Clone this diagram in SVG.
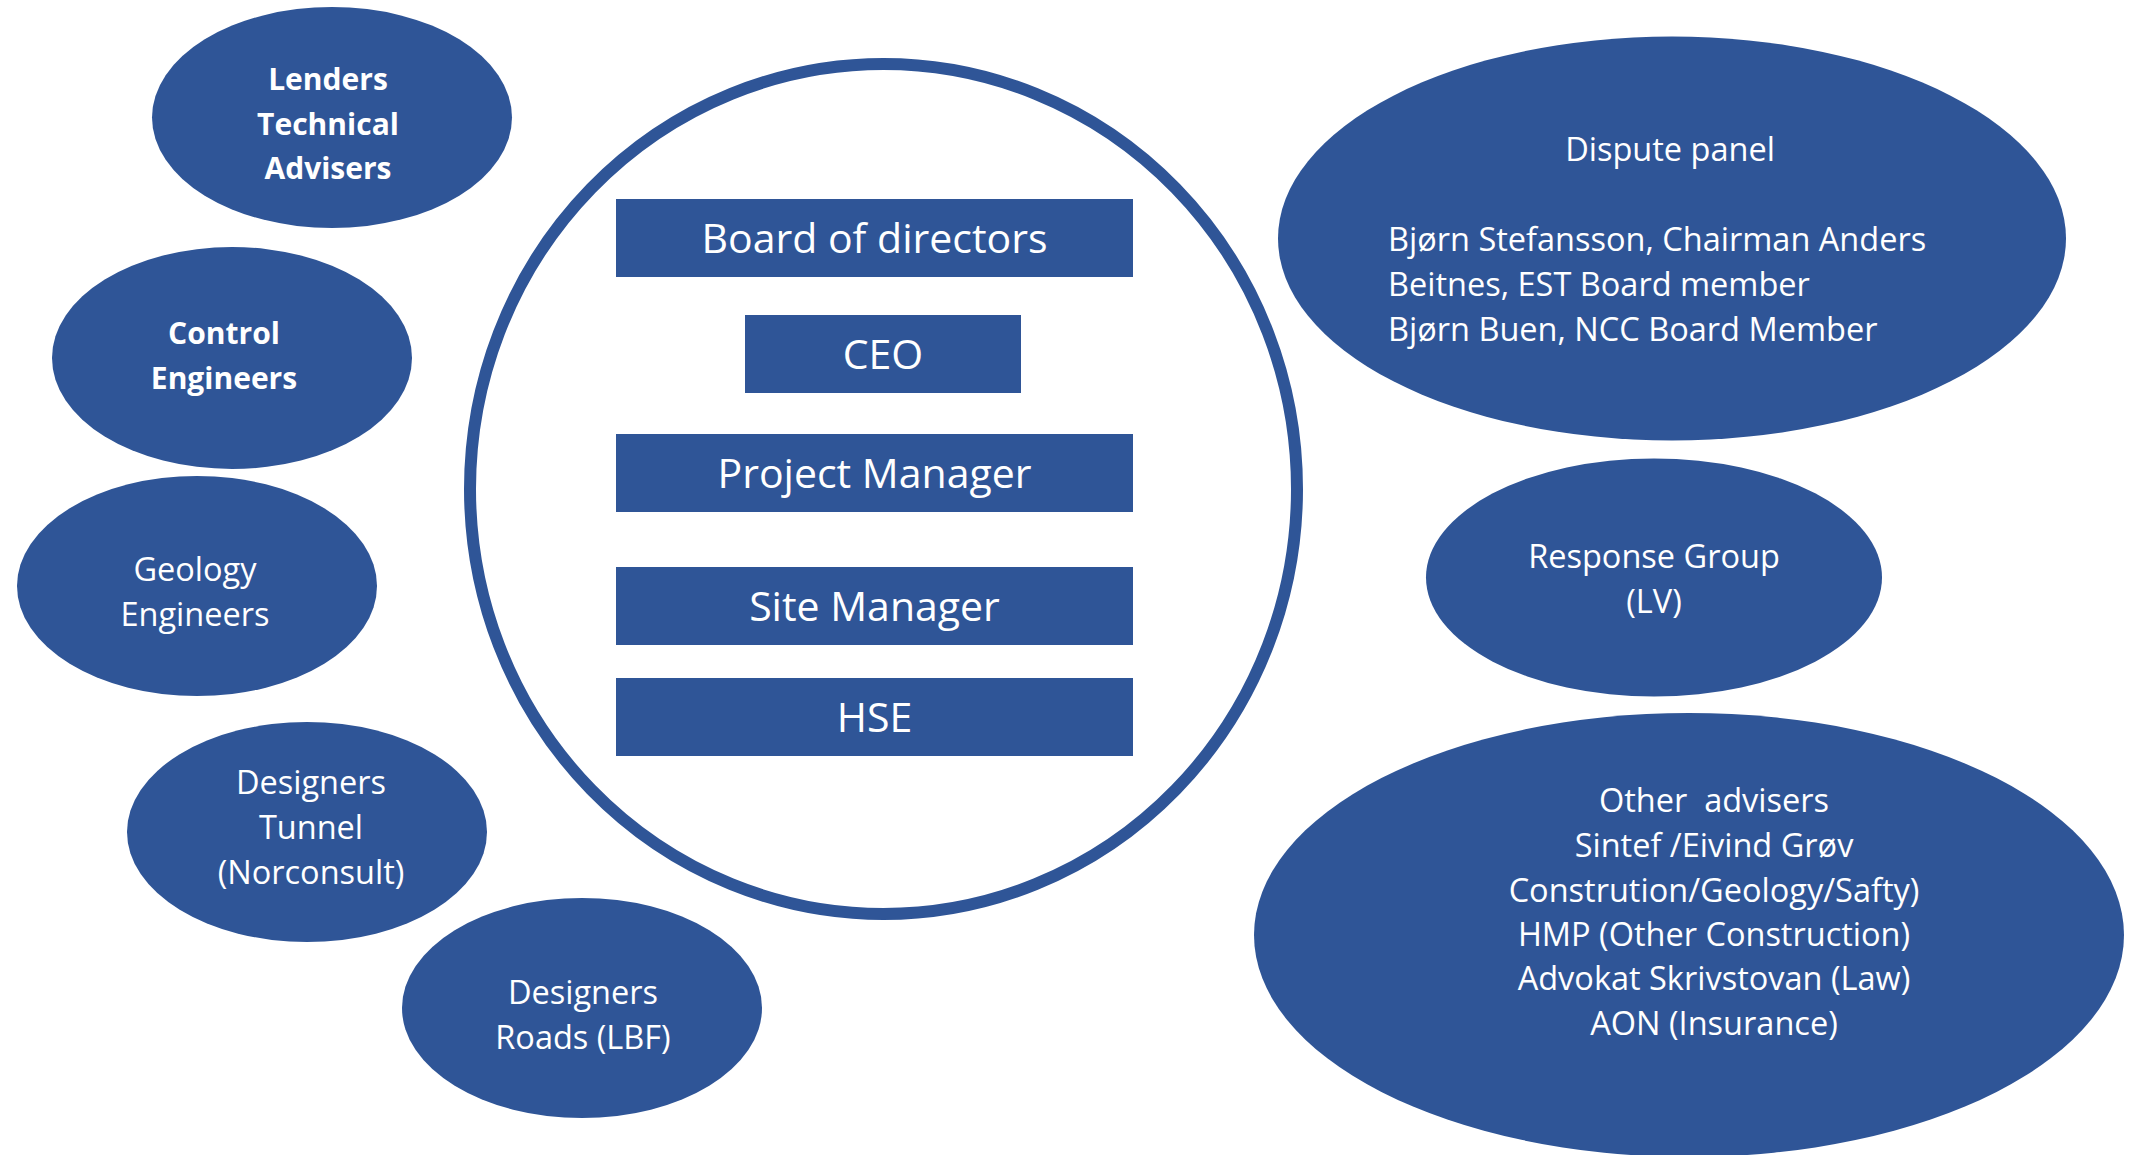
<svg xmlns="http://www.w3.org/2000/svg" width="2131" height="1155" viewBox="0 0 2131 1155">
  <style>
    .bubble { fill: #2F5597; }
    .box { fill: #2F5597; }
    .ring { fill: none; stroke: #2F5597; stroke-width: 12; }
    text { fill: #FFFFFF; font-family: "Open Sans", "Noto Sans", "Liberation Sans", sans-serif; }
    .lbl { font-size: 32.5px; text-anchor: middle; }
    .lblb { font-size: 30px; font-weight: bold; text-anchor: middle; }
    .role { font-size: 41px; text-anchor: middle; }
    .left { font-size: 32.5px; text-anchor: start; }
  </style>
  <rect x="0" y="0" width="2131" height="1155" fill="#FFFFFF"/>

  <!-- central organisation ring -->
  <g id="organisation">
    <ellipse class="ring" cx="883.5" cy="489" rx="413.5" ry="425"/>
  </g>

  <g id="connectors"></g>

  <!-- roles inside the ring -->
  <g id="board">
    <rect class="box" x="616" y="199" width="517" height="78"/>
    <text class="role" x="874.5" y="253">Board of directors</text>
  </g>
  <g id="ceo">
    <rect class="box" x="745" y="315" width="276" height="78"/>
    <text class="role" x="883" y="369">CEO</text>
  </g>
  <g id="project-manager">
    <rect class="box" x="616" y="434" width="517" height="78"/>
    <text class="role" x="874.5" y="488">Project Manager</text>
  </g>
  <g id="site-manager">
    <rect class="box" x="616" y="567" width="517" height="78"/>
    <text class="role" x="874.5" y="621">Site Manager</text>
  </g>
  <g id="hse">
    <rect class="box" x="616" y="678" width="517" height="78"/>
    <text class="role" x="874.5" y="732">HSE</text>
  </g>

  <!-- left-hand advisers -->
  <g id="lenders">
    <ellipse class="bubble" cx="332" cy="117.5" rx="180" ry="110.5"/>
    <text class="lblb" x="328" y="90">Lenders</text>
    <text class="lblb" x="328" y="135">Technical</text>
    <text class="lblb" x="328" y="179">Advisers</text>
  </g>
  <g id="control-engineers">
    <ellipse class="bubble" cx="232" cy="358" rx="180" ry="111"/>
    <text class="lblb" x="224" y="344">Control</text>
    <text class="lblb" x="224" y="389">Engineers</text>
  </g>
  <g id="geology-engineers">
    <ellipse class="bubble" cx="197" cy="586" rx="180" ry="110"/>
    <text class="lbl" x="195" y="581">Geology</text>
    <text class="lbl" x="195" y="626">Engineers</text>
  </g>
  <g id="designers-tunnel">
    <ellipse class="bubble" cx="307" cy="832" rx="180" ry="110"/>
    <text class="lbl" x="311" y="794">Designers</text>
    <text class="lbl" x="311" y="839">Tunnel</text>
    <text class="lbl" x="311" y="884">(Norconsult)</text>
  </g>
  <g id="designers-roads">
    <ellipse class="bubble" cx="582" cy="1008" rx="180" ry="110"/>
    <text class="lbl" x="583" y="1004">Designers</text>
    <text class="lbl" x="583" y="1049">Roads (LBF)</text>
  </g>

  <!-- right-hand groups -->
  <g id="dispute-panel">
    <ellipse class="bubble" cx="1672" cy="238.5" rx="394" ry="202"/>
    <text class="lbl" x="1670" y="161">Dispute panel</text>
    <text class="left" x="1388" y="251">Bjørn Stefansson, Chairman Anders</text>
    <text class="left" x="1388" y="296">Beitnes, EST Board member</text>
    <text class="left" x="1388" y="341">Bjørn Buen, NCC Board Member</text>
  </g>
  <g id="response-group">
    <ellipse class="bubble" cx="1654" cy="577.5" rx="228" ry="119"/>
    <text class="lbl" x="1654" y="568">Response Group</text>
    <text class="lbl" x="1654" y="613">(LV)</text>
  </g>
  <g id="other-advisers">
    <ellipse class="bubble" cx="1689" cy="935" rx="435" ry="222"/>
    <text class="lbl" x="1714" y="812" xml:space="preserve">Other  advisers</text>
    <text class="lbl" x="1714" y="857">Sintef /Eivind Grøv</text>
    <text class="lbl" x="1714" y="902">Constrution/Geology/Safty)</text>
    <text class="lbl" x="1714" y="946">HMP (Other Construction)</text>
    <text class="lbl" x="1714" y="990">Advokat Skrivstovan (Law)</text>
    <text class="lbl" x="1714" y="1035">AON (Insurance)</text>
  </g>
</svg>
